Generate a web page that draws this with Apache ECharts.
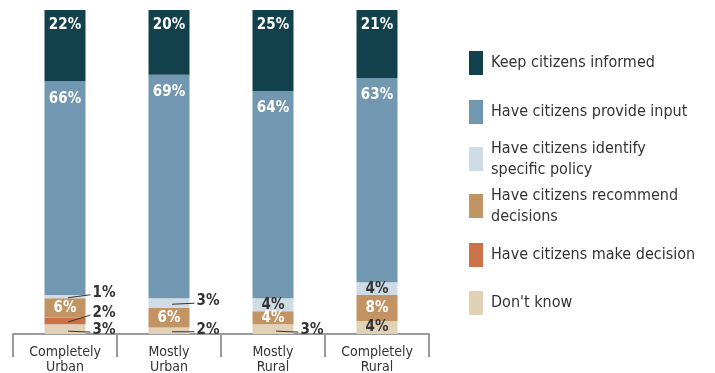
<!DOCTYPE html>
<html>
<head>
<meta charset="utf-8">
<script src="https://cdn.jsdelivr.net/npm/echarts@6/dist/echarts.min.js"></script>
<style>
  html, body { margin: 0; padding: 0; background: #fff; }
  #chart { width: 715px; height: 373px; }
</style>
</head>
<body>
<div id="chart"></div>
<script>
// categories along the x axis
const categories = ['Completely\nUrban', 'Mostly\nUrban', 'Mostly\nRural', 'Completely\nRural'];

// percentages per answer, bottom of stack first
const dontKnow     = [3, 2, 3, 4];
const makeDecision = [2, 0, 0, 0];
const recommend    = [6, 6, 4, 8];
const identify     = [1, 3, 4, 4];
const provideInput = [66, 69, 64, 63];
const informed     = [22, 20, 25, 21];

const FONT = "'Liberation Sans Narrow', 'DejaVu Sans Condensed', sans-serif";
const BAR_W = 41;

// series setup (stack order bottom -> top)
const seriesDefs = [
    { name: "Don't know", data: dontKnow, color: '#e1d1b6', text: '#333', pos: 'inside' },
    { name: 'Have citizens make decision', data: makeDecision, color: '#cb7248', text: '#fff', pos: 'inside' },
    { name: 'Have citizens recommend\ndecisions', data: recommend, color: '#c29363', text: '#fff', pos: 'inside' },
    { name: 'Have citizens identify\nspecific policy', data: identify, color: '#cfdce5', text: '#333', pos: 'inside' },
    { name: 'Have citizens provide input', data: provideInput, color: '#7197b1', text: '#fff', pos: 'insideTop', dist: 10 },
    { name: 'Keep citizens informed', data: informed, color: '#12404b', text: '#fff', pos: 'insideTop', dist: 8 }
];

const barSeries = seriesDefs.map(d => ({
    name: d.name,
    type: 'bar',
    stack: 'all',
    barWidth: BAR_W,
    data: d.data,
    itemStyle: { color: d.color },
    label: {
        show: true,
        position: d.pos,
        distance: d.dist || 5,
        color: d.text,
        fontFamily: FONT,
        fontWeight: 'bold',
        fontSize: 15,
        formatter: p => (p.value >= 4 ? p.value + '%' : '')
    }
}));

// small segments get a label outside with a leader line
const labelNudge = { '0-3': -4, '0-1': -8, '0-0': 1, '1-3': -2, '1-0': -1, '2-0': 1 };
const callouts = [];
categories.forEach((c, i) => {
    let base = 0;
    seriesDefs.forEach((d, s) => {
        const v = d.data[i];
        if (v > 0 && v < 4) callouts.push([i, base + v / 2, v, s]);
        base += v;
    });
});

const calloutSeries = {
    type: 'custom',
    z: 10,
    silent: true,
    data: callouts,
    renderItem: function (params, api) {
        const pt = api.coord([api.value(0), api.value(1)]);
        const key = api.value(0) + '-' + api.value(3);
        const ly = pt[1] + (labelNudge[key] || 0);
        const right = pt[0] + BAR_W / 2;
        return {
            type: 'group',
            children: [
                {
                    type: 'line',
                    shape: { x1: pt[0] + 3, y1: Math.max(pt[1], ly) + 1, x2: right + 5, y2: ly + 2 },
                    style: { stroke: '#333', lineWidth: 1 }
                },
                {
                    type: 'text',
                    style: {
                        text: api.value(2) + '%',
                        x: right + 7,
                        y: ly,
                        verticalAlign: 'middle',
                        fill: '#333',
                        fontFamily: FONT,
                        fontWeight: 'bold',
                        fontSize: 15
                    }
                }
            ]
        };
    }
};

// legend, one block per entry so spacing stays even
const legendOrder = seriesDefs.slice().reverse();
const legendTops = [51, 100, 138, 185, 243, 291];
const legends = legendOrder.map((d, i) => ({
    data: [d.name],
    orient: 'vertical',
    left: 469,
    top: legendTops[i],
    padding: 0,
    icon: 'rect',
    itemWidth: 14,
    itemHeight: 24,
    selectedMode: false,
    textStyle: {
        fontFamily: FONT,
        fontSize: 16,
        lineHeight: 21,
        color: '#333',
        padding: [0, 0, 0, 3]
    }
}));

const chart = echarts.init(document.getElementById('chart'));

const option = {
    backgroundColor: '#fff',
    animation: false,
    legend: legends,
    grid: { left: 13, right: 286, top: 10, bottom: 39, outerBoundsMode: 'none' },
    xAxis: {
        type: 'category',
        data: categories,
        axisLine: { lineStyle: { color: '#9a9a9a', width: 2 } },
        axisTick: { show: true, length: 23, lineStyle: { color: '#9a9a9a', width: 2 } },
        axisLabel: {
            interval: 0,
            margin: 11,
            color: '#333',
            fontFamily: FONT,
            fontSize: 14,
            lineHeight: 15
        }
    },
    yAxis: { type: 'value', min: 0, max: 100, show: false },
    series: barSeries.concat([calloutSeries])
};

chart.setOption(option);
</script>
</body>
</html>
